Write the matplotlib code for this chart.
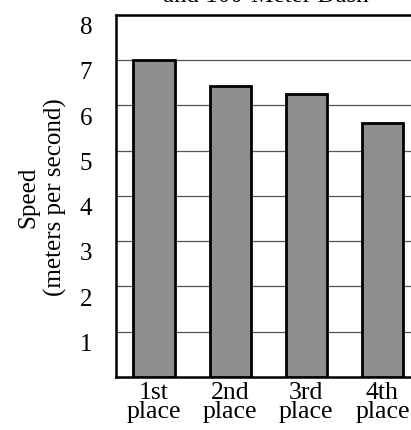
import matplotlib
matplotlib.use("Agg")
import matplotlib.pyplot as plt
import matplotlib.transforms as mtransforms

# data
places = ["1st\nplace", "2nd\nplace", "3rd\nplace", "4th\nplace"]
speeds = [7.0, 6.43, 6.25, 5.61]
y_ticks = [1, 2, 3, 4, 5, 6, 7, 8]

plt.rcParams['font.family'] = ['Liberation Serif', 'DejaVu Serif']

fig = plt.figure(figsize=(4.11, 4.31), dpi=100)
ax = fig.add_axes([0.282, 0.123, 0.741, 0.840])

x = range(len(places))
ax.bar(x, speeds, width=0.54, color='#8e8e8e', edgecolor='black',
       linewidth=2, zorder=3)

ax.set_xlim(-0.5, 3.5)
ax.set_ylim(0, 8)
ax.set_yticks(y_ticks)
ax.set_xticks(list(x))
ax.set_xticklabels(places, fontsize=18.5, linespacing=0.82)
ax.tick_params(axis='y', length=0, pad=17, labelsize=18)
ax.tick_params(axis='x', length=0, pad=3)

# the y numbers sit a little below their grid lines in the original
shift = mtransforms.ScaledTranslation(0, -7 / 72, fig.dpi_scale_trans)
for lbl in ax.get_yticklabels():
    lbl.set_transform(lbl.get_transform() + shift)

ax.grid(axis='y', color='#555555', linewidth=0.9, zorder=0)
for side in ['left', 'bottom', 'top']:
    ax.spines[side].set_linewidth(1.8)
ax.spines['right'].set_visible(False)

ax.set_ylabel("Speed\n(meters per second)", fontsize=18, linespacing=1.3,
              labelpad=9)

# title is cropped at the top edge in the reference
fig.text(0.648, 1 - 2 / 431, "and 100-Meter Dash",
         ha='center', va='baseline', fontsize=18)

fig.savefig("out.png", dpi=100)
